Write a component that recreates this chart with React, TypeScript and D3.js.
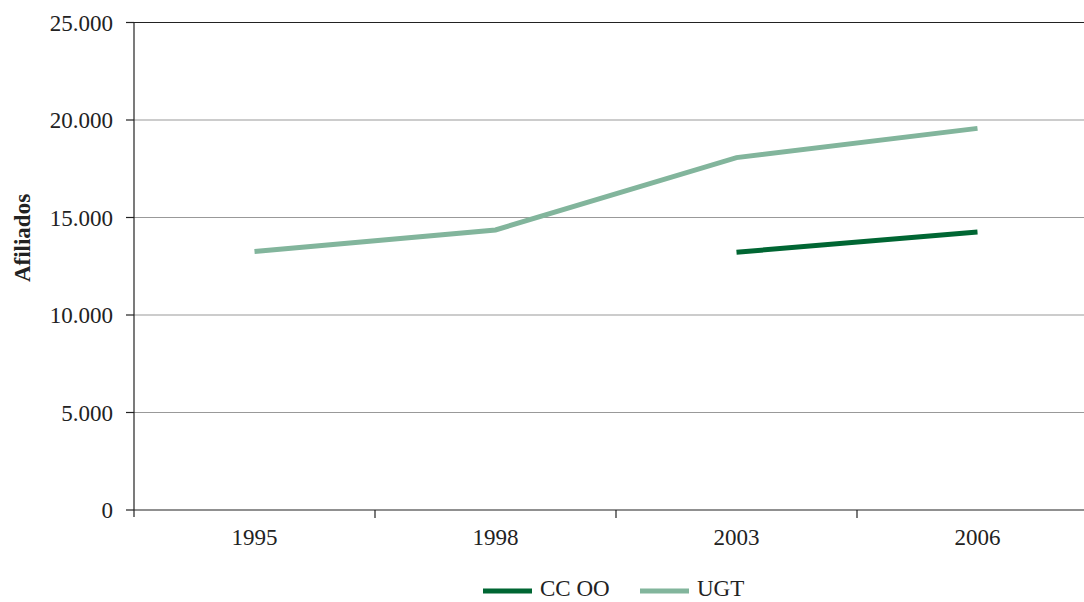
import React from 'react';
import * as d3 from 'd3';

const years = ['1995', '1998', '2003', '2006'];
const ugt = [13260, 14360, 18070, 19570];
const ccoo: (number | null)[] = [null, null, 13220, 14260];
const yTicks = [0, 5000, 10000, 15000, 20000, 25000];

const W = 1084;
const H = 602;
const margin = { top: 22.5, left: 134, bottom: 92 };
const font = '"Liberation Serif", "Times New Roman", serif';
const fs = 23;

const App: React.FC = () => {
  const x = d3.scaleBand().domain(years).range([margin.left, margin.left + 241 * 4]);
  const y = d3.scaleLinear().domain([0, 25000]).range([H - margin.bottom, margin.top]);
  const line = d3
    .line<number | null>()
    .defined(d => d != null)
    .x((_, i) => (x(years[i]) || 0) + x.bandwidth() / 2)
    .y(d => y(d as number));

  const fmt = (v: number) => (v === 0 ? '0' : d3.format(',')(v).replace(/,/g, '.'));
  const x0 = margin.left;
  const yBase = y(0);

  return (
    <svg width={W} height={H} style={{ position: 'absolute', left: 0, top: 0, background: '#fff' }} fontFamily={font}>
      {yTicks.map(t => (
        <g key={t}>
          {t > 0 && (
            <line x1={x0} x2={W} y1={y(t)} y2={y(t)} stroke={t === 25000 ? '#222' : '#999'} strokeWidth={1.2} />
          )}
          <line x1={x0 - 8} x2={x0} y1={y(t)} y2={y(t)} stroke="#222" strokeWidth={1.2} />
          <text x={x0 - 21} y={y(t)} dy="0.35em" textAnchor="end" fontSize={fs} fill="#222">
            {fmt(t)}
          </text>
        </g>
      ))}
      <line x1={x0} x2={x0} y1={margin.top} y2={yBase + 7} stroke="#222" strokeWidth={1.2} />
      <line x1={x0} x2={W} y1={yBase} y2={yBase} stroke="#222" strokeWidth={1.2} />
      {years.map(yr => (
        <g key={yr}>
          <line x1={(x(yr) || 0) + x.bandwidth()} x2={(x(yr) || 0) + x.bandwidth()} y1={yBase} y2={yBase + 8} stroke="#222" strokeWidth={1.2} />
          <text x={(x(yr) || 0) + x.bandwidth() / 2} y={yBase + 35} textAnchor="middle" fontSize={fs} fill="#222">
            {yr}
          </text>
        </g>
      ))}
      <text transform="translate(30,238) rotate(-90)" textAnchor="middle" fontSize={fs} fontWeight="bold" fill="#222">
        Afiliados
      </text>
      <path d={line(ugt) || ''} fill="none" stroke="#82b59c" strokeWidth={5} />
      <path d={line(ccoo) || ''} fill="none" stroke="#006633" strokeWidth={5} />
      <g>
        <line x1={483} x2={532} y1={591} y2={591} stroke="#006633" strokeWidth={5} />
        <text x={540} y={596} fontSize={fs} fill="#222">CC OO</text>
        <line x1={640} x2={689} y1={591} y2={591} stroke="#82b59c" strokeWidth={5} />
        <text x={697} y={596} fontSize={fs} fill="#222">UGT</text>
      </g>
    </svg>
  );
};

export default App;
